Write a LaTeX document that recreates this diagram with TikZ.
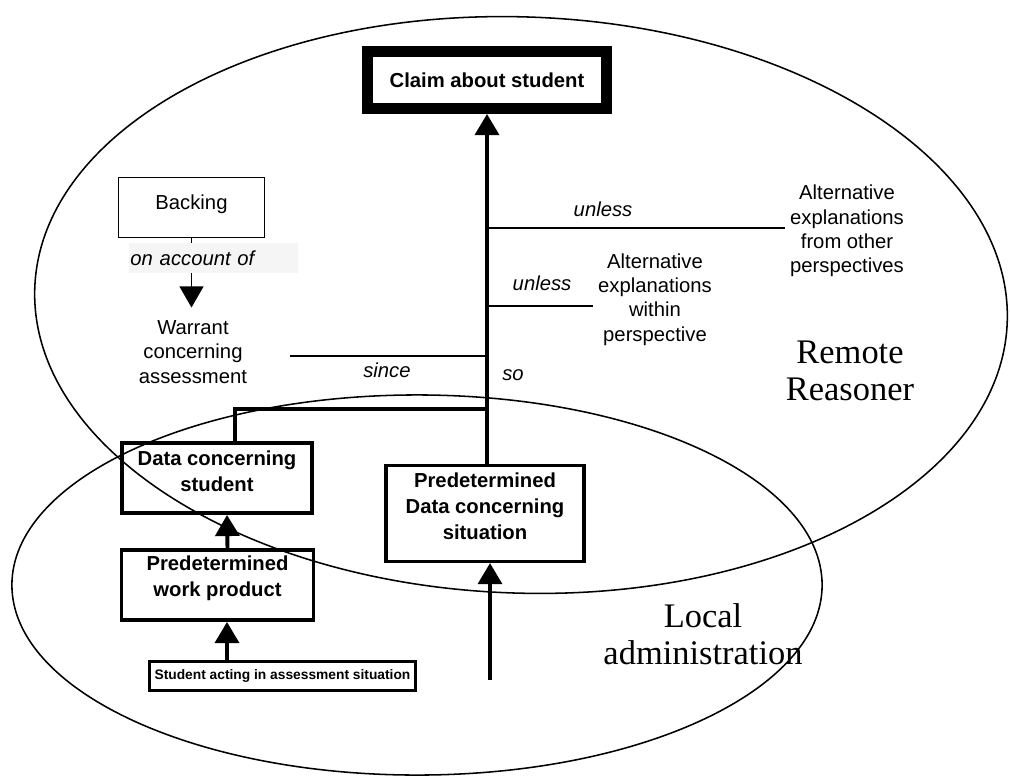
\documentclass[tikz,border=0pt]{standalone}
\usepackage{fontspec}
\setmainfont{Liberation Sans}
\newfontfamily\placefont{Liberation Serif}
\usetikzlibrary{arrows.meta, calc}
\tikzset{every node/.style={align=center, font=\fontsize{14.4}{17.4}\selectfont}}
\tikzset{stage/.style={draw, line width=2.5pt, inner sep=0pt, font=\bfseries\fontsize{14.4}{18.5}\selectfont}}
\tikzset{claimbox/.style={stage, line width=7.8pt}}
\tikzset{link/.style={line width=2.8pt}}
\tikzset{rule/.style={line width=1.1pt}}
\tikzset{tip/.style={-{Triangle[width=17pt, length=15pt]}}}
\tikzset{qualifier/.style={font=\itshape\fontsize{14.4}{17.4}\selectfont}}
\tikzset{place/.style={font=\placefont\fontsize{24.5}{26.5}\selectfont}}

\begin{document}
\begin{tikzpicture}[x=0.025cm, y=-0.025cm]
	\useasboundingbox (0,0) rectangle (1010,776);

	% Ellipses
	\draw[rule, rotate around={-2:(521,305)}] (521,305) ellipse [x radius=12.16cm, y radius=7.2cm];
	\draw[rule] (417,585) ellipse [x radius=10.125cm, y radius=4.75cm];

	% Coordinates
	%% on the main line
	\coordinate (unlessA) at (487,228);
	\coordinate (unlessB) at (487,306);
	\coordinate (sinceR) at (487,356);
	\coordinate (join) at (487,409);
	%% free ends
	\coordinate (sinceL) at (290,356);
	\coordinate (sitfoot) at (490,680);

	% Boxes
	\node[claimbox, minimum width=5.975cm, minimum height=1.425cm] (claim) at (487,80) {Claim about student};
	\node[stage, minimum width=4.96cm, minimum height=2.39cm, text depth=10.6pt] (datasit) at (485,513.5) {Predetermined\\Data concerning\\situation};
	\node[stage, minimum width=4.76cm, minimum height=1.76cm, text depth=10pt] (datastu) at (217,478) {Data concerning\\student};
	\node[stage, minimum width=4.79cm, minimum height=1.76cm, text depth=13pt] (workprod) at (217.5,585) {Predetermined\\work product};
	\node[stage, line width=2.2pt, minimum width=6.65cm, minimum height=0.725cm, font=\bfseries\fontsize{9.8}{12}\selectfont] (acting) at (282.5,676) {Student acting in assessment situation};
	\node[draw, rule, minimum width=3.65cm, minimum height=1.5cm, inner sep=0pt, text depth=8pt] (backing) at (191.5,207.5) {Backing};
	\node[qualifier, fill=black!4, inner xsep=1pt, inner ysep=0pt, text width=4.15cm, minimum height=0.75cm, align=left] (onacct) at (213.5,258) {on account of};

	% Texts
	\node (warrant) at (193,352) {Warrant\\concerning\\assessment};
	\node (withinpersp) at (655,299.5) {Alternative\\explanations\\within\\perspective};
	\node (otherpersp) at (847,231) {Alternative\\explanations\\from other\\perspectives};
	\node[place] (remote) at (850,371) {Remote\\Reasoner};
	\node[place] (local) at (703,634.5) {Local\\administration};

	% Qualifiers
	\node[qualifier] (unlessup) at (603,209) {unless};
	\node[qualifier] (unlesslow) at (542,283) {unless};
	\node[qualifier] (since) at (387,370) {since};
	\node[qualifier] (so) at (513,375) {so};

	% Links
	\draw[link, tip] (claim.south |- datasit.north) -- (claim.south);
	\draw[link] ($(datastu.north)+(18,0)$) |- (join);
	\draw[link, tip] ($(workprod.north)+(10,0)$) -- ($(datastu.south)+(10,0)$);
	\draw[link, tip] ($(acting.north)+(-55.5,0)$) -- ($(workprod.south)+(9.5,0)$);
	\draw[link, tip] (sitfoot) -- (sitfoot |- datasit.south);

	% Thin lines
	\draw[rule] (unlessA) -- (unlessA -| otherpersp.west);
	\draw[rule] (unlessB) -- (unlessB -| withinpersp.west);
	\draw[rule] (sinceL) -- (sinceR);
	\draw[rule] (backing.south) -- (backing.south |- onacct.north);
	\draw[rule, tip, shorten >=0.2cm] (onacct.south -| backing.south) -- (warrant.north -| backing.south);
\end{tikzpicture}
\end{document}
